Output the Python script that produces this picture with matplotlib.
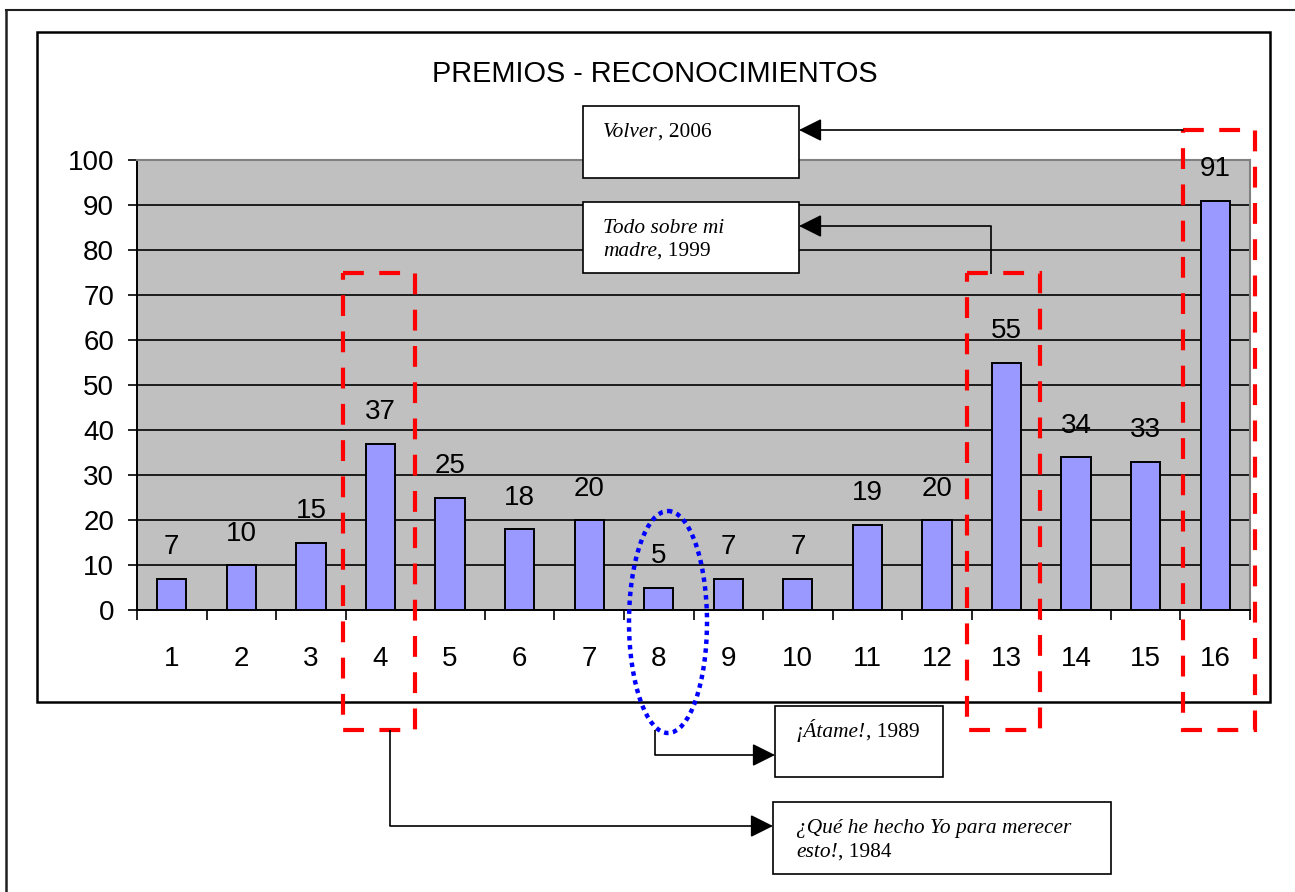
import matplotlib
matplotlib.use("Agg")
import matplotlib.pyplot as plt
from matplotlib.patches import Rectangle, Ellipse, FancyArrowPatch

# ---- data ----
categories = list(range(1, 17))
values = [7, 10, 15, 37, 25, 18, 20, 5, 7, 7, 19, 20, 55, 34, 33, 91]
yticks = list(range(0, 101, 10))
title = "PREMIOS - RECONOCIMIENTOS"

W, H = 1295, 892
fig = plt.figure(figsize=(W / 100, H / 100), dpi=100)
fig.patch.set_facecolor("white")

SANS = "Liberation Sans"
SERIF = "Liberation Serif"

# main axes (pixel placement)
L, R, T, B = 137, 1250, 160, 610
ax = fig.add_axes([L / W, 1 - B / H, (R - L) / W, (B - T) / H])
ax.set_facecolor("#C0C0C0")
ax.bar(categories, values, width=0.42, color="#9999FF", edgecolor="black",
       linewidth=1.4, zorder=3)
ax.set_xlim(0.5, 16.5)
ax.set_ylim(0, 100)
ax.set_yticks(yticks)
ax.set_yticklabels([str(v) for v in yticks], fontsize=20, family=SANS)
ax.yaxis.grid(True, color="black", linewidth=1.2, zorder=1)
ax.set_axisbelow(True)
ax.tick_params(axis="y", direction="out", length=6.5, width=1.2, pad=10)

ax.set_xticks([c - 0.5 for c in categories] + [categories[-1] + 0.5])
ax.set_xticklabels([])
ax.set_xticks(categories, minor=True)
ax.set_xticklabels([str(c) for c in categories], minor=True, fontsize=20, family=SANS)
ax.tick_params(axis="x", which="major", direction="out", length=7, width=1.2)
ax.tick_params(axis="x", which="minor", length=0, pad=26)

for s in ["left", "bottom"]:
    ax.spines[s].set_color("black")
    ax.spines[s].set_linewidth(1.4)
for s in ["top", "right"]:
    ax.spines[s].set_color("#808080")
    ax.spines[s].set_linewidth(1.5)

for c, v in zip(categories, values):
    ax.annotate(str(v), xy=(c, v), xytext=(0, 13), textcoords="offset points",
                ha="center", va="bottom", fontsize=20, family=SANS, zorder=4)

# overlay axes in pixel coordinates for decorations
ov = fig.add_axes([0, 0, 1, 1], zorder=10)
ov.set_xlim(0, W)
ov.set_ylim(H, 0)
ov.axis("off")
ov.patch.set_alpha(0)

# outer border (top and left only visible)
ov.plot([6, W], [10, 10], color="#202020", lw=1.5)
ov.plot([6, 6], [10, H], color="#202020", lw=1.8)
# inner chart border
ov.add_patch(Rectangle((37, 32), 1270 - 37, 702 - 32, fill=False,
                       edgecolor="black", lw=1.8))

ov.text(655, 74, title, ha="center", va="center", fontsize=20.8, family=SANS)

# red dashed rectangles
for (x0, y0, x1, y1) in [(343, 273, 415, 730), (967, 273, 1040, 730),
                         (1183, 130, 1255, 730)]:
    ov.add_patch(Rectangle((x0, y0), x1 - x0, y1 - y0, fill=False,
                           edgecolor="#FF0000", lw=3, linestyle=(0, (5, 3.7))))

# blue dotted ellipse
ov.add_patch(Ellipse((668, 622), 78, 222, fill=False, edgecolor="#0000FF",
                     lw=3.2, linestyle=(0, (1, 1))))

# text boxes
for (x0, y0, x1, y1) in [(583, 106, 799, 178), (583, 202, 799, 273),
                         (775, 706, 943, 777), (773, 802, 1111, 874)]:
    ov.add_patch(Rectangle((x0, y0), x1 - x0, y1 - y0, facecolor="white",
                           edgecolor="black", lw=1.2, zorder=5))

FS = 15.4


def label(x, y, ital, norm=""):
    t = ov.text(x, y, ital, fontsize=FS, family=SERIF, style="italic",
                ha="left", va="baseline", zorder=6)
    if norm:
        ov.annotate(norm, xy=(1, 0), xycoords=t, ha="left", va="bottom",
                    fontsize=FS, family=SERIF, zorder=6)


label(603, 137, "Volver", ", 2006")
label(603, 233, "Todo sobre mi")
label(603, 256, "madre", ", 1999")
label(796, 737, "¡Átame!", ", 1989")
label(796, 833, "¿Qué he hecho Yo para merecer")
label(796, 857, "esto!", ", 1984")


# connectors
def arrow(points):
    xs = [p[0] for p in points]
    ys = [p[1] for p in points]
    if len(points) > 2:
        ov.plot(xs[:-1], ys[:-1], color="black", lw=1.2, solid_capstyle="butt")
    ov.add_patch(FancyArrowPatch(points[-2], points[-1],
                                 arrowstyle="-|>,head_length=0.7,head_width=0.35",
                                 mutation_scale=20, color="black", lw=1.2,
                                 shrinkA=0, shrinkB=0, zorder=6))


arrow([(1183, 130), (799, 130)])
arrow([(991, 274), (991, 226), (799, 226)])
arrow([(655, 730), (655, 755), (775, 755)])
arrow([(390, 730), (390, 826), (773, 826)])

fig.savefig("out.png", dpi=100)
